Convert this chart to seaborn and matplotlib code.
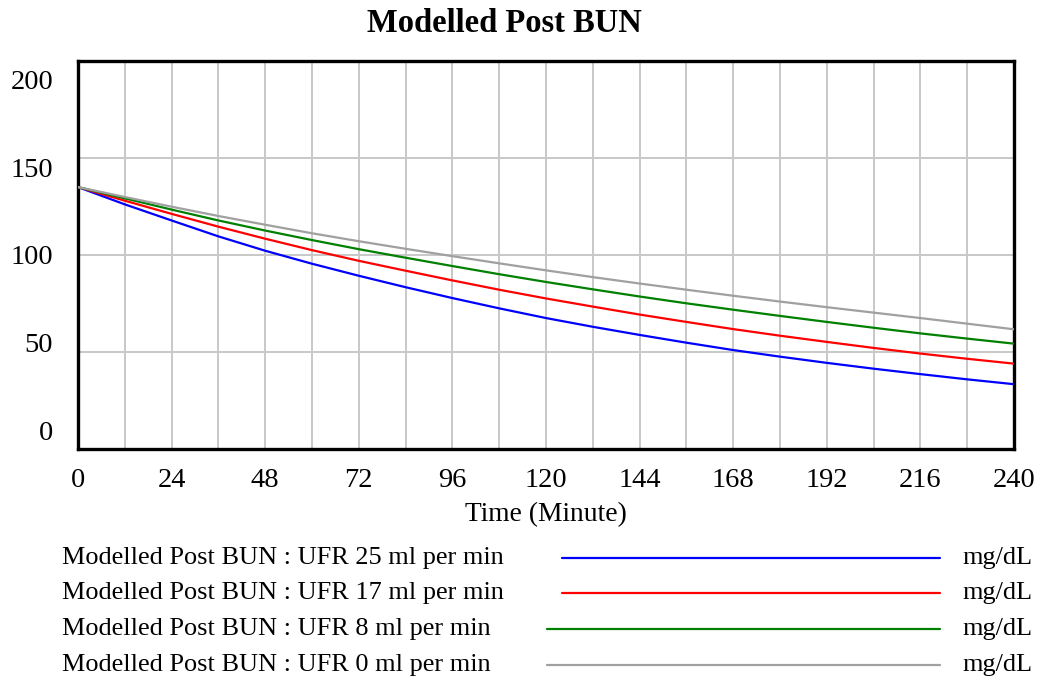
import numpy as np
import pandas as pd
import matplotlib
matplotlib.use("Agg")
import matplotlib.pyplot as plt
from matplotlib.lines import Line2D
from matplotlib.transforms import ScaledTranslation
import seaborn as sns

# values (mg/dL), every 12 minutes
time_min = list(range(0, 241, 12))
ufr_25 = [135, 126.1, 117.8, 109.6, 102.2, 95.5, 89.3, 83.4, 77.8, 72.5, 67.5,
          63.0, 58.8, 54.8, 51.0, 47.6, 44.4, 41.4, 38.6, 35.9, 33.4]
ufr_17 = [135, 128.0, 121.2, 114.6, 108.4, 102.5, 97.0, 91.9, 86.9, 82.1, 77.6,
          73.4, 69.3, 65.5, 61.8, 58.4, 55.2, 52.1, 49.2, 46.5, 44.0]
ufr_8 = [135, 129.2, 123.4, 117.8, 112.6, 107.7, 103.0, 98.6, 94.3, 90.1, 86.1,
         82.3, 78.6, 75.1, 71.8, 68.6, 65.5, 62.5, 59.6, 56.9, 54.3]
ufr_0 = [135, 129.9, 124.9, 120.1, 115.6, 111.2, 107.1, 103.2, 99.4, 95.7, 92.1,
         88.6, 85.3, 82.1, 79.0, 76.0, 73.1, 70.3, 67.5, 64.6, 61.7]

series_names = ["Modelled Post BUN : UFR 25 ml per min",
                "Modelled Post BUN : UFR 17 ml per min",
                "Modelled Post BUN : UFR 8 ml per min",
                "Modelled Post BUN : UFR 0 ml per min"]
series_colors = ["#0000ff", "#ff0000", "#008000", "#a0a0a0"]
x_ticks = list(range(0, 241, 12))
y_ticks = [0, 50, 100, 150, 200]

#build long-form table for seaborn
frames = []
for name, vals in zip(series_names, [ufr_25, ufr_17, ufr_8, ufr_0]):
    frames.append(pd.DataFrame({"time": time_min, "bun": vals, "series": name}))
df = pd.concat(frames, ignore_index=True)

sns.set_theme(style="white")
plt.rcParams["font.family"] = ["Liberation Serif", "DejaVu Serif"]
plt.rcParams["text.color"] = "black"
plt.rcParams["axes.labelcolor"] = "black"

fig = plt.figure(figsize=(10.4, 6.8), dpi=100)
ax = fig.add_axes([78 / 1040, 1 - 449 / 680, (1014 - 78) / 1040, (449 - 61) / 680])

sns.lineplot(data=df, x="time", y="bun", hue="series", hue_order=series_names,
             palette=dict(zip(series_names, series_colors)), linewidth=1.6,
             legend=False, ax=ax, zorder=3)

ax.set_xlim(0, 240)
ax.set_ylim(0, 200)
ax.set_xticks(x_ticks)
ax.set_xticklabels([str(t) if t % 24 == 0 else "" for t in x_ticks])
ax.set_yticks(y_ticks)
ax.set_yticklabels([str(v) for v in y_ticks])
ax.grid(True, color="#c8c8c8", linewidth=1.4, zorder=0)
ax.tick_params(axis="both", length=0, labelsize=20.5, colors="black")
ax.tick_params(axis="x", pad=14)
ax.tick_params(axis="y", pad=18)

# Vensim spreads y labels inside the range
offsets = {0: 13, 50: 6.5, 100: 0, 150: -6.5, 200: -13}
for lab, v in zip(ax.get_yticklabels(), y_ticks):
    lab.set_transform(lab.get_transform() + ScaledTranslation(0, offsets[v] / 72, fig.dpi_scale_trans))

for s in ax.spines.values():
    s.set_color("black")
    s.set_linewidth(2.4)

ax.set_xlabel("Time (Minute)", fontsize=19.8, labelpad=6)
ax.set_ylabel("")

fig.text(504.5 / 1040, 1 - 24 / 680, "Modelled Post BUN", ha="center", va="center",
         fontsize=23.5, fontweight="bold")

#manual legend like the Vensim output
row_y = [557.7, 593.3, 629, 665]
line_x0 = [562, 562, 547, 547]
for name, col, yy, x0 in zip(series_names, series_colors, row_y, line_x0):
    fy = 1 - yy / 680
    fig.text(62 / 1040, fy, name, ha="left", va="center", fontsize=18.9)
    fig.add_artist(Line2D([x0 / 1040, 940 / 1040], [fy, fy], color=col,
                          linewidth=1.6, transform=fig.transFigure))
    fig.text(962 / 1040, fy, "mg/dL", ha="left", va="center", fontsize=18.9)

fig.savefig("out.png", dpi=100, facecolor="white")
